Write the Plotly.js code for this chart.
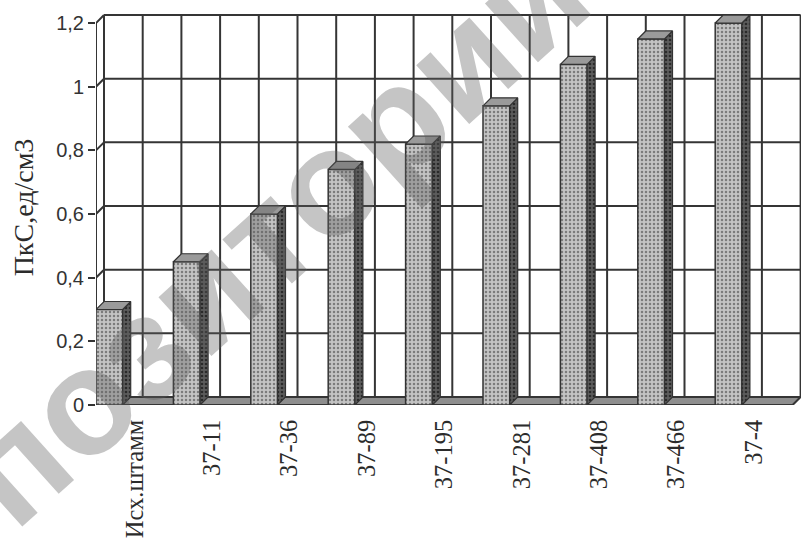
<!DOCTYPE html>
<html>
<head>
<meta charset="utf-8">
<script src="https://cdn.plot.ly/plotly-3.0.1.min.js"></script>
<style>
  html, body { margin: 0; padding: 0; background: #ffffff; }
  #chart { width: 801px; height: 542px; }
</style>
</head>
<body>
<div id="chart"></div>
<script>
// Strains and their ПкС values (ед/см3)
const categories = ['Исх.штамм', '37-11', '37-36', '37-89', '37-195', '37-281', '37-408', '37-466', '37-4'];
const pksValues = [0.30, 0.45, 0.60, 0.74, 0.82, 0.94, 1.07, 1.15, 1.20];
const yTickValues = [0, 0.2, 0.4, 0.6, 0.8, 1.0, 1.2];

// Page geometry and the pseudo-3D depth of the box
const W = 801, H = 542;
const margin = { l: 96, r: 0, t: 10, b: 137 };
const plotW = W - margin.l - margin.r;
const plotH = H - margin.t - margin.b;
const pxPerCat = 77.4;      // width of one category band
const pxPerUnit = 318.3;    // pixels per 1 ед/см3
const xMax = plotW / pxPerCat;
const yMax = plotH / pxPerUnit;
const depthPx = 8;
const dx = depthPx / pxPerCat;
const dy = depthPx / pxPerUnit;
const barW = 0.345;         // front face width in category units
const n = categories.length;
const yTop = yTickValues[yTickValues.length - 1];

const ink = '#333333';

// Side and top faces of each column
const sideX = [], sideY = [], topX = [], topY = [];
pksValues.forEach((v, i) => {
  const x0 = i, x1 = i + barW;
  sideX.push(x1, x1, x1 + dx, x1 + dx, x1, null);
  sideY.push(0, v, v + dy, dy, 0, null);
  topX.push(x0, x1, x1 + dx, x0 + dx, x0, null);
  topY.push(v, v, v + dy, v + dy, v, null);
});

const traces = [
  {
    type: 'bar',
    x: categories.map((_, i) => i),
    y: pksValues,
    width: barW,
    offset: 0,
    marker: {
      color: '#c0c0c0',
      line: { color: ink, width: 1.5 },
      pattern: { shape: '.', bgcolor: '#c4c4c4', fgcolor: '#7c7c7c', size: 4, solidity: 0.3 }
    },
    hoverinfo: 'skip',
    showlegend: false
  },
  {
    type: 'scatter',
    mode: 'lines',
    x: sideX, y: sideY,
    fill: 'toself',
    fillcolor: '#555555',
    fillpattern: { shape: '.', bgcolor: '#5c5c5c', fgcolor: '#2a2a2a', size: 4, solidity: 0.35 },
    line: { color: ink, width: 1.2 },
    hoverinfo: 'skip',
    showlegend: false
  },
  {
    type: 'scatter',
    mode: 'lines',
    x: topX, y: topY,
    fill: 'toself',
    fillcolor: '#9a9a9a',
    line: { color: ink, width: 1.2 },
    hoverinfo: 'skip',
    showlegend: false
  }
];

// Walls, floor and gridlines of the box
const shapes = [];
const gridLine = { color: '#353535', width: 2 };

// floor
shapes.push({
  type: 'path', layer: 'below', xref: 'x', yref: 'y',
  path: `M0,0 L${n},0 L${n + dx},${dy} L${dx},${dy} Z`,
  fillcolor: '#8e8e8e', line: gridLine
});
// back wall: horizontal lines
yTickValues.forEach(v => {
  if (v === 0) return;
  shapes.push({ type: 'line', layer: 'below', xref: 'x', yref: 'y',
    x0: dx, x1: n + dx, y0: v + dy, y1: v + dy, line: gridLine });
});
// back wall: vertical lines every half category
for (let k = 0; k <= 2 * n; k++) {
  const x = dx + k * 0.5;
  shapes.push({ type: 'line', layer: 'below', xref: 'x', yref: 'y',
    x0: x, x1: x, y0: dy, y1: yTop + dy, line: gridLine });
}
// side wall: slanted connectors from the value axis to the back wall
yTickValues.forEach(v => {
  shapes.push({ type: 'line', layer: 'below', xref: 'x', yref: 'y',
    x0: 0, x1: dx, y0: v, y1: v + dy, line: gridLine });
});
// front value axis
shapes.push({ type: 'line', layer: 'below', xref: 'x', yref: 'y',
  x0: 0, x1: 0, y0: 0, y1: yTop, line: gridLine });
// category tick marks under the floor
for (let k = 0; k <= n; k++) {
  shapes.push({ type: 'line', layer: 'above', xref: 'x', yref: 'y',
    ysizemode: 'pixel', yanchor: 0, x0: k, x1: k, y0: 0, y1: -8, line: gridLine });
}

const layout = {
  width: W, height: H,
  margin: margin,
  paper_bgcolor: '#ffffff',
  plot_bgcolor: 'rgba(0,0,0,0)',
  separators: ', ',
  showlegend: false,
  xaxis: {
    range: [0, xMax],
    tickvals: categories.map((_, i) => i + 0.5),
    ticktext: categories,
    tickangle: -90,
    ticks: 'outside', ticklen: 4, tickcolor: 'rgba(0,0,0,0)',
    tickfont: { family: 'Liberation Serif, Times New Roman, serif', size: 24.5, color: '#2b2b2b' },
    showgrid: false, zeroline: false, showline: false, fixedrange: true
  },
  yaxis: {
    range: [0, yMax],
    tickvals: yTickValues,
    ticks: 'outside', ticklen: 7, tickwidth: 2, tickcolor: ink,
    tickfont: { family: 'Liberation Sans, Arial, sans-serif', size: 20, color: '#333333' },
    showgrid: false, zeroline: false, showline: false, fixedrange: true,
    title: {
      text: 'ПкС,ед/см3',
      font: { family: 'Liberation Serif, Times New Roman, serif', size: 28, color: '#2b2b2b' },
      standoff: 14
    }
  },
  shapes: shapes,
  annotations: [{
    xref: 'paper', yref: 'paper',
    x: (205 - margin.l) / plotW, y: (H - margin.b - 292) / plotH,
    xanchor: 'center', yanchor: 'middle',
    text: 'Репозиторий', showarrow: false, textangle: -42,
    font: { family: 'Liberation Sans, Arial, sans-serif', size: 150, weight: 'bold', color: 'rgba(95,95,95,0.36)' }
  }]
};

Plotly.newPlot('chart', traces, layout, { displayModeBar: false, staticPlot: true });
</script>
</body>
</html>
